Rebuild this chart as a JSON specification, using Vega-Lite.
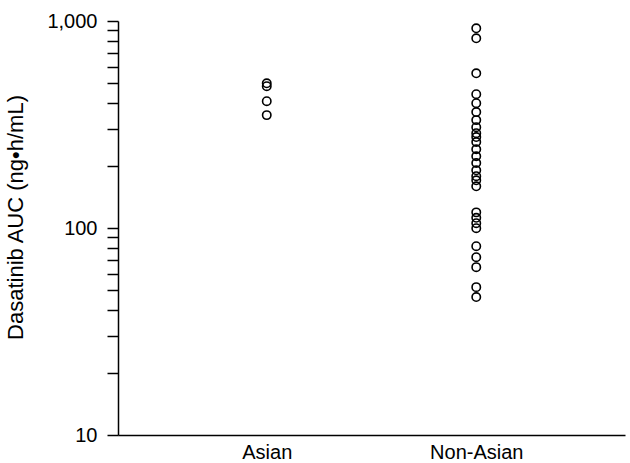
{
  "$schema": "https://vega.github.io/schema/vega-lite/v6.json",
  "width": 507,
  "height": 414,
  "autosize": "none",
  "padding": {"left": 118, "top": 21, "right": 5, "bottom": 28},
  "background": "white",
  "config": {
    "view": {"stroke": null},
    "font": "Liberation Sans"
  },
  "data": {
    "values": [
      {"group": "Asian", "auc": 500},
      {"group": "Asian", "auc": 484},
      {"group": "Asian", "auc": 410},
      {"group": "Asian", "auc": 351},
      {"group": "Non-Asian", "auc": 922},
      {"group": "Non-Asian", "auc": 825},
      {"group": "Non-Asian", "auc": 559},
      {"group": "Non-Asian", "auc": 443},
      {"group": "Non-Asian", "auc": 401},
      {"group": "Non-Asian", "auc": 363},
      {"group": "Non-Asian", "auc": 332},
      {"group": "Non-Asian", "auc": 307},
      {"group": "Non-Asian", "auc": 287},
      {"group": "Non-Asian", "auc": 275},
      {"group": "Non-Asian", "auc": 260},
      {"group": "Non-Asian", "auc": 240},
      {"group": "Non-Asian", "auc": 222},
      {"group": "Non-Asian", "auc": 206},
      {"group": "Non-Asian", "auc": 190},
      {"group": "Non-Asian", "auc": 178},
      {"group": "Non-Asian", "auc": 170},
      {"group": "Non-Asian", "auc": 159},
      {"group": "Non-Asian", "auc": 119},
      {"group": "Non-Asian", "auc": 112},
      {"group": "Non-Asian", "auc": 105.5},
      {"group": "Non-Asian", "auc": 99.8},
      {"group": "Non-Asian", "auc": 81.7},
      {"group": "Non-Asian", "auc": 72.3},
      {"group": "Non-Asian", "auc": 64.7},
      {"group": "Non-Asian", "auc": 51.8},
      {"group": "Non-Asian", "auc": 46.4}
    ]
  },
  "mark": {"type": "point", "shape": "circle", "filled": false, "color": "black", "size": 70, "strokeWidth": 1.6, "opacity": 1},
  "encoding": {
    "x": {
      "field": "group",
      "type": "nominal",
      "sort": ["Asian", "Non-Asian"],
      "scale": {"type": "point", "padding": 0.71},
      "axis": {
        "title": null,
        "labelAngle": 0,
        "ticks": false,
        "domainColor": "black",
        "domainWidth": 1.5,
        "labelFont": "Liberation Sans",
        "labelFontSize": 20,
        "labelColor": "black",
        "labelPadding": 7
      }
    },
    "y": {
      "field": "auc",
      "type": "quantitative",
      "scale": {"type": "log", "domain": [10, 1000], "nice": false},
      "axis": {
        "title": "Dasatinib AUC (ng•h/mL)",
        "values": [10, 20, 30, 40, 50, 60, 70, 80, 90, 100, 200, 300, 400, 500, 600, 700, 800, 900, 1000],
        "labelExpr": "datum.value == 10 || datum.value == 100 || datum.value == 1000 ? format(datum.value, ',') : ''",
        "grid": false,
        "domainColor": "black",
        "domainWidth": 1.5,
        "tickColor": "black",
        "tickWidth": 1.5,
        "tickSize": 11,
        "labelFont": "Liberation Sans",
        "labelFontSize": 20,
        "labelColor": "black",
        "labelPadding": 10,
        "labelBound": false,
        "labelOverlap": false,
        "titleFont": "Liberation Sans",
        "titleFontSize": 22,
        "titleFontWeight": "normal",
        "titleColor": "black",
        "titlePadding": 19,
        "titleY": 196
      }
    }
  }
}
